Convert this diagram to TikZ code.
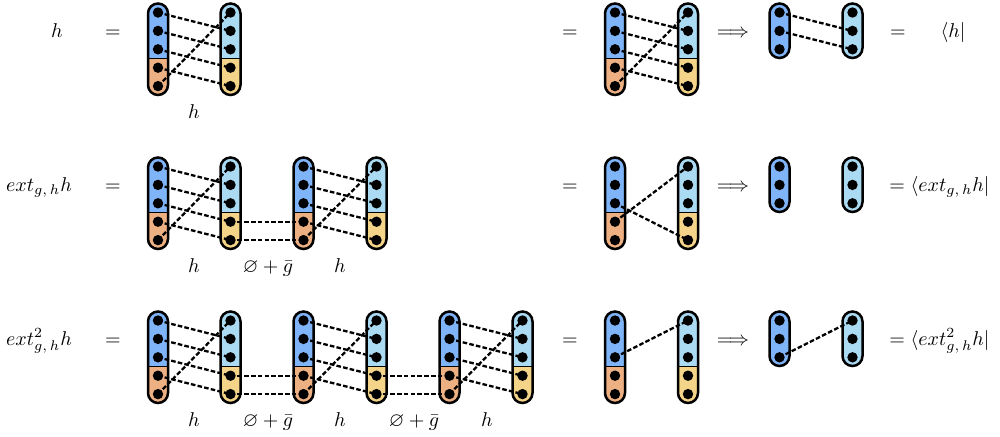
\documentclass[tikz,border=0pt]{standalone}
\usepackage{amssymb}
\pgfdeclarelayer{background}
\pgfdeclarelayer{edges}
\pgfsetlayers{background,edges,main}
\definecolor{cblue}{HTML}{80B4F8}
\definecolor{clblue}{HTML}{AADBF3}
\definecolor{corange}{HTML}{ECB083}
\definecolor{cyellow}{HTML}{F3D488}
\tikzset{
  dot/.style={circle,fill=black,inner sep=0pt,minimum size=5.2pt},
  barline/.style={line width=1.25pt,rounded corners=5pt},
  divider/.style={line width=0.8pt},
  link/.style={line width=1.15pt,dash pattern=on 2.3pt off 1.1pt},
  lbl/.style={anchor=base,inner sep=0pt},
}
% long bar: #1 name, #2 x, #3 row offset, #4 top colour, #5 bottom colour
\newcommand\longbar[5]{%
  \begin{pgfonlayer}{background}
    \begin{scope}
      \clip[rounded corners=5pt] (#2-10,#3+3.5) rectangle (#2+10,#3+95);
      \fill[#4] (#2-11,#3+2) rectangle (#2+11,#3+58.5);
      \fill[#5] (#2-11,#3+58.5) rectangle (#2+11,#3+97);
    \end{scope}
    \draw[divider] (#2-10,#3+58.5) -- (#2+10,#3+58.5);
    \draw[barline] (#2-10,#3+3.5) rectangle (#2+10,#3+95);
  \end{pgfonlayer}
  \foreach \i/\yy in {1/12.5,2/30.9,3/49.3,4/67.7,5/86.1}
    \node[dot] (#1-\i) at (#2,#3+\yy) {};
}
% short bar: #1 name, #2 x, #3 row offset, #4 colour
\newcommand\shortbar[4]{%
  \begin{pgfonlayer}{background}
    \draw[barline,fill=#4] (#2-10,#3+3.5) rectangle (#2+10,#3+58);
  \end{pgfonlayer}
  \foreach \i/\yy in {1/12.5,2/30.9,3/49.3}
    \node[dot] (#1-\i) at (#2,#3+\yy) {};
}
\newcommand\hmap[2]{%
  \begin{pgfonlayer}{edges}
    \draw[link] (#1-1.center) -- (#2-2.center);
    \draw[link] (#1-2.center) -- (#2-3.center);
    \draw[link] (#1-3.center) -- (#2-4.center);
    \draw[link] (#1-4.center) -- (#2-5.center);
    \draw[link] (#1-5.center) -- (#2-1.center);
  \end{pgfonlayer}
}
\newcommand\gmap[2]{%
  \begin{pgfonlayer}{edges}
    \draw[link] (#1-4.center) -- (#2-4.center);
    \draw[link] (#1-5.center) -- (#2-5.center);
  \end{pgfonlayer}
}
\newcommand\onelink[2]{%
  \begin{pgfonlayer}{edges}
    \draw[link] (#1.center) -- (#2.center);
  \end{pgfonlayer}
}
\begin{document}
\begin{tikzpicture}[x=0.5pt,y=-0.5pt]
\useasboundingbox (0,0) rectangle (1000,436);
% ---------------- row 1
\longbar{a1}{158}{0}{cblue}{corange}
\longbar{a2}{230.5}{0}{clblue}{cyellow}
\hmap{a1}{a2}
\longbar{ar1}{615}{0}{cblue}{corange}
\longbar{ar2}{688}{0}{clblue}{cyellow}
\hmap{ar1}{ar2}
\shortbar{as1}{779.5}{0}{cblue}
\shortbar{as2}{852.5}{0}{clblue}
\onelink{as1-1}{as2-2}
\onelink{as1-2}{as2-3}
\node[lbl] (t1a) at (57,37) {$h$};
\node[lbl] (t1b) at (113,37) {$=$};
\node[lbl] (t1c) at (570,37) {$=$};
\node[lbl] (t1d) at (733,37) {$\Longrightarrow$};
\node[lbl] (t1e) at (898,37) {$=$};
\node[lbl] (t1f) at (953,37) {$\langle h|$};
\node[lbl] (l1a) at (194,118) {$h$};
% ---------------- row 2
\longbar{b1}{158}{154}{cblue}{corange}
\longbar{b2}{230.5}{154}{clblue}{cyellow}
\longbar{b3}{303.5}{154}{cblue}{corange}
\longbar{b4}{376.5}{154}{clblue}{cyellow}
\hmap{b1}{b2}
\gmap{b2}{b3}
\hmap{b3}{b4}
\longbar{br1}{615}{154}{cblue}{corange}
\longbar{br2}{688}{154}{clblue}{cyellow}
\onelink{br1-3}{br2-5}
\onelink{br1-4}{br2-1}
\shortbar{bs1}{779.5}{154}{cblue}
\shortbar{bs2}{852.5}{154}{clblue}
\node[lbl] (t2a) at (39,191) {$ext_{g,\,h}h$};
\node[lbl] (t2b) at (113,191) {$=$};
\node[lbl] (t2c) at (570,191) {$=$};
\node[lbl] (t2d) at (733,191) {$\Longrightarrow$};
\node[lbl,anchor=base west] (t2e) at (889,191) {$=\langle ext_{g,\,h}h|$};
\node[lbl] (l2a) at (194,272) {$h$};
\node[lbl] (l2b) at (268,272) {$\varnothing+\bar{g}$};
\node[lbl] (l2c) at (340,272) {$h$};
% ---------------- row 3
\longbar{c1}{158}{308}{cblue}{corange}
\longbar{c2}{230.5}{308}{clblue}{cyellow}
\longbar{c3}{303.5}{308}{cblue}{corange}
\longbar{c4}{376.5}{308}{clblue}{cyellow}
\longbar{c5}{449.5}{308}{cblue}{corange}
\longbar{c6}{522.5}{308}{clblue}{cyellow}
\hmap{c1}{c2}
\gmap{c2}{c3}
\hmap{c3}{c4}
\gmap{c4}{c5}
\hmap{c5}{c6}
\longbar{cr1}{615}{308}{cblue}{corange}
\longbar{cr2}{688}{308}{clblue}{cyellow}
\onelink{cr1-3}{cr2-1}
\shortbar{cs1}{779.5}{308}{cblue}
\shortbar{cs2}{852.5}{308}{clblue}
\onelink{cs1-3}{cs2-1}
\node[lbl] (t3a) at (39,345) {$ext^2_{g,\,h}h$};
\node[lbl] (t3b) at (113,345) {$=$};
\node[lbl] (t3c) at (570,345) {$=$};
\node[lbl] (t3d) at (733,345) {$\Longrightarrow$};
\node[lbl,anchor=base west] (t3e) at (889,345) {$=\langle ext^2_{g,\,h}h|$};
\node[lbl] (l3a) at (194,426) {$h$};
\node[lbl] (l3b) at (268,426) {$\varnothing+\bar{g}$};
\node[lbl] (l3c) at (340,426) {$h$};
\node[lbl] (l3d) at (414,426) {$\varnothing+\bar{g}$};
\node[lbl] (l3e) at (487,426) {$h$};
\end{tikzpicture}
\end{document}
